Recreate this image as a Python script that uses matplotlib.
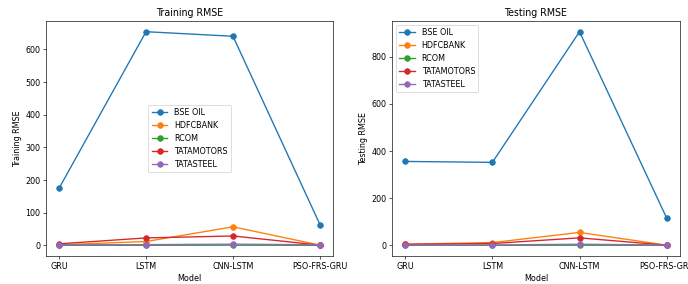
import matplotlib

matplotlib.use("Agg")
import matplotlib.pyplot as plt

models = ["GRU", "LSTM", "CNN-LSTM", "PSO-FRS-GRU"]
stocks = ["BSE OIL", "HDFCBANK", "RCOM", "TATAMOTORS", "TATASTEEL"]

train_bse_oil = [175, 654, 640, 64]
train_hdfcbank = [2, 12, 57, 1]
train_rcom = [0.5, 0.5, 0.8, 0.4]
train_tatamotors = [5, 23, 29, 1]
train_tatasteel = [2, 2.5, 4, 2]

test_bse_oil = [356, 352, 906, 116]
test_hdfcbank = [5, 12, 55, 1]
test_rcom = [0.5, 0.5, 0.8, 0.4]
test_tatamotors = [5, 8, 32, 1]
test_tatasteel = [2, 2, 5, 2]

train_values = [train_bse_oil, train_hdfcbank, train_rcom, train_tatamotors, train_tatasteel]
test_values = [test_bse_oil, test_hdfcbank, test_rcom, test_tatamotors, test_tatasteel]

dpi = 688 / 12
fig = plt.figure(figsize=(12, 284 / dpi), dpi=dpi)
ax_train = fig.add_axes([0.0669, 0.0986, 0.4171, 0.8274])
ax_test = fig.add_axes([0.570, 0.0986, 0.418, 0.8274])

for name, vals in zip(stocks, train_values):
    ax_train.plot(models, vals, marker="o", markersize=7, linewidth=1.7, label=name)
ax_train.set_title("Training RMSE", fontsize=12)
ax_train.set_xlabel("Model")
ax_train.set_ylabel("Training RMSE")
ax_train.legend(loc="center")

for name, vals in zip(stocks, test_values):
    ax_test.plot(models, vals, marker="o", markersize=7, linewidth=1.7, label=name)
ax_test.set_title("Testing RMSE", fontsize=12)
ax_test.set_xlabel("Model")
ax_test.set_ylabel("Testing RMSE")
ax_test.legend(loc="upper left")

fig.savefig("out.png", dpi=dpi)
plt.close(fig)
